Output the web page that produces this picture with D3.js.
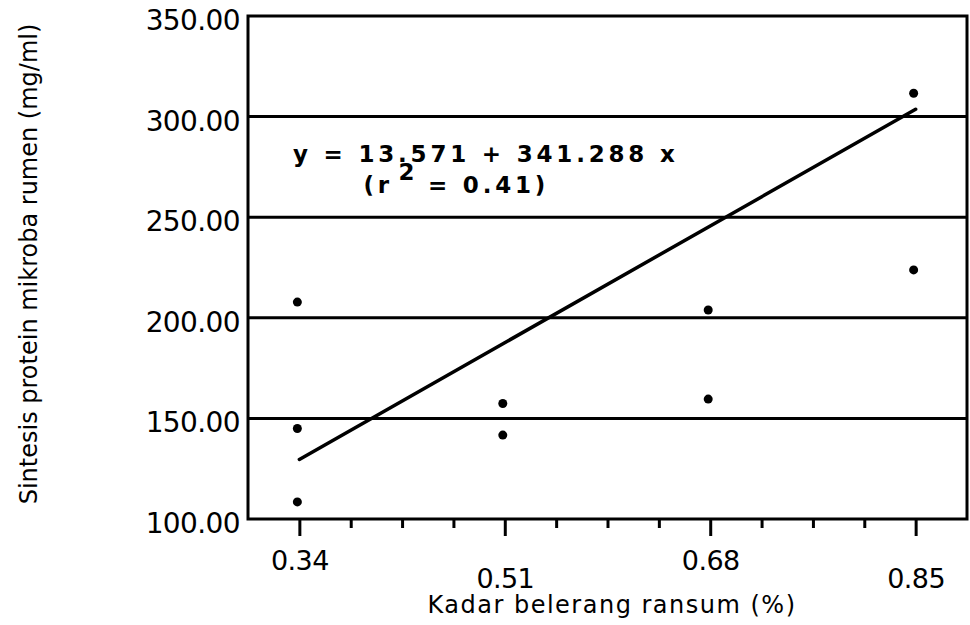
<!DOCTYPE html>
<html>
<head>
<meta charset="utf-8">
<script src="https://cdn.jsdelivr.net/npm/d3@7"></script>
<style>
  body { margin: 0; background: #fff; }
  text { font-family: "DejaVu Sans", sans-serif; fill: #000; }
  .eq { font-family: "Liberation Mono", "DejaVu Sans Mono", monospace; font-weight: bold; }
</style>
</head>
<body>
<div id="scatter"></div>
<script>
// sulfur level (%) and microbial protein synthesis (mg/ml)
var sulfurLevels = [0.34, 0.34, 0.34, 0.51, 0.51, 0.68, 0.68, 0.85, 0.85];
var proteinValues = [207.8, 145.0, 108.5, 157.4, 141.7, 203.9, 159.6, 311.6, 223.8];

var majorTicks = [0.34, 0.51, 0.68, 0.85];
var minorTicks = [0.3825, 0.425, 0.4675, 0.5525, 0.595, 0.6375, 0.7225, 0.765, 0.8075];
var yTicks = [100, 150, 200, 250, 300, 350];
var gridValues = [150, 200, 250, 300];

var intercept = 13.571;
var slope = 341.288;
var eqLine1 = "y = 13.571 + 341.288 x";
var eqLine2 = ["(r", "2", " = 0.41)"];

var xTitle = "Kadar belerang ransum (%)";
var yTitle = "Sintesis protein mikroba rumen (mg/ml)";

var svgWidth = 970;
var svgHeight = 625;

var margin = { top: 16, right: 3, bottom: 106, left: 248 };
var width = svgWidth - margin.left - margin.right;
var height = svgHeight - margin.top - margin.bottom;

var svg = d3.select("#scatter")
  .append("svg")
  .attr("width", svgWidth)
  .attr("height", svgHeight);

var chartGroup = svg.append("g")
  .attr("transform", `translate(${margin.left}, ${margin.top})`);

var xScale = d3.scaleLinear()
  .domain([0.2975, 0.8925])
  .range([0, width]);

var yScale = d3.scaleLinear()
  .domain([100, 350])
  .range([height, 0]);

// gridlines
chartGroup.selectAll(".grid")
  .data(gridValues)
  .enter()
  .append("line")
  .attr("x1", 0)
  .attr("x2", width)
  .attr("y1", d => yScale(d))
  .attr("y2", d => yScale(d))
  .attr("stroke", "#000")
  .attr("stroke-width", 3);

// frame
chartGroup.append("rect")
  .attr("x", 0)
  .attr("y", 0)
  .attr("width", width)
  .attr("height", height)
  .attr("fill", "none")
  .attr("stroke", "#000")
  .attr("stroke-width", 3);

// y axis labels
var yAxis = d3.axisLeft(yScale)
  .tickValues(yTicks)
  .tickSize(0)
  .tickPadding(8)
  .tickFormat(d3.format(".2f"));

var yAxisG = chartGroup.append("g").call(yAxis);
yAxisG.select(".domain").remove();
yAxisG.selectAll("text")
  .attr("dy", "0.48em")
  .style("font-size", "28px")
  .style("letter-spacing", "-0.6px")
  .style("font-family", "'DejaVu Sans', sans-serif")
  .attr("fill", "#000");

// x axis: major and minor ticks
var xMajor = d3.axisBottom(xScale)
  .tickValues(majorTicks)
  .tickSize(17)
  .tickPadding(0)
  .tickFormat(d3.format(".2f"));

var xMajorG = chartGroup.append("g")
  .attr("transform", `translate(0, ${height})`)
  .call(xMajor);
xMajorG.select(".domain").remove();
xMajorG.selectAll("line").attr("stroke", "#000").attr("stroke-width", 3);
xMajorG.selectAll("text")
  .attr("y", (d, i) => i % 2 === 0 ? 51 : 69)
  .attr("dy", 0)
  .style("font-size", "27px")
  .style("letter-spacing", "-0.6px")
  .style("font-family", "'DejaVu Sans', sans-serif")
  .attr("fill", "#000");

var xMinor = d3.axisBottom(xScale)
  .tickValues(minorTicks)
  .tickSize(9)
  .tickFormat("");

var xMinorG = chartGroup.append("g")
  .attr("transform", `translate(0, ${height})`)
  .call(xMinor);
xMinorG.select(".domain").remove();
xMinorG.selectAll("line").attr("stroke", "#000").attr("stroke-width", 3);

// regression line from the printed equation
var fitX = d3.extent(sulfurLevels);
var fitData = fitX.map(x => ({ x: x, y: intercept + slope * x }));

var line = d3.line()
  .x(d => xScale(d.x))
  .y(d => yScale(d.y));

chartGroup.append("path")
  .data([fitData])
  .attr("d", line)
  .attr("fill", "none")
  .attr("stroke", "#000")
  .attr("stroke-width", 3.5)
  .attr("stroke-linecap", "round");

// observed points
chartGroup.selectAll("circle")
  .data(sulfurLevels)
  .enter()
  .append("circle")
  .attr("cx", d => xScale(d) - 2)
  .attr("cy", (d, i) => yScale(proteinValues[i]))
  .attr("r", 4.5)
  .attr("fill", "#000");

// equation text, typewriter pitch
var pitch = 17.6;
var eqX = 293;
var eqG = svg.append("g")
  .attr("class", "eq")
  .style("font-size", "23px")
  .style("letter-spacing", (pitch - 23 * 0.6) + "px");

eqG.append("text")
  .attr("x", eqX)
  .attr("y", 162)
  .attr("xml:space", "preserve")
  .text(eqLine1);

eqG.append("text")
  .attr("x", eqX + 4 * pitch)
  .attr("y", 193)
  .attr("xml:space", "preserve")
  .text(eqLine2[0]);

eqG.append("text")
  .attr("x", eqX + 6 * pitch)
  .attr("y", 180)
  .text(eqLine2[1]);

eqG.append("text")
  .attr("x", eqX + 7 * pitch)
  .attr("y", 193)
  .attr("xml:space", "preserve")
  .text(eqLine2[2]);

// axis titles
svg.append("text")
  .attr("x", 612)
  .attr("y", 613)
  .attr("text-anchor", "middle")
  .style("font-size", "24px")
  .style("letter-spacing", "1.5px")
  .text(xTitle);

svg.append("text")
  .attr("transform", "translate(37, 264) rotate(-90)")
  .attr("text-anchor", "middle")
  .style("font-size", "24px")
  .text(yTitle);
</script>
</body>
</html>
